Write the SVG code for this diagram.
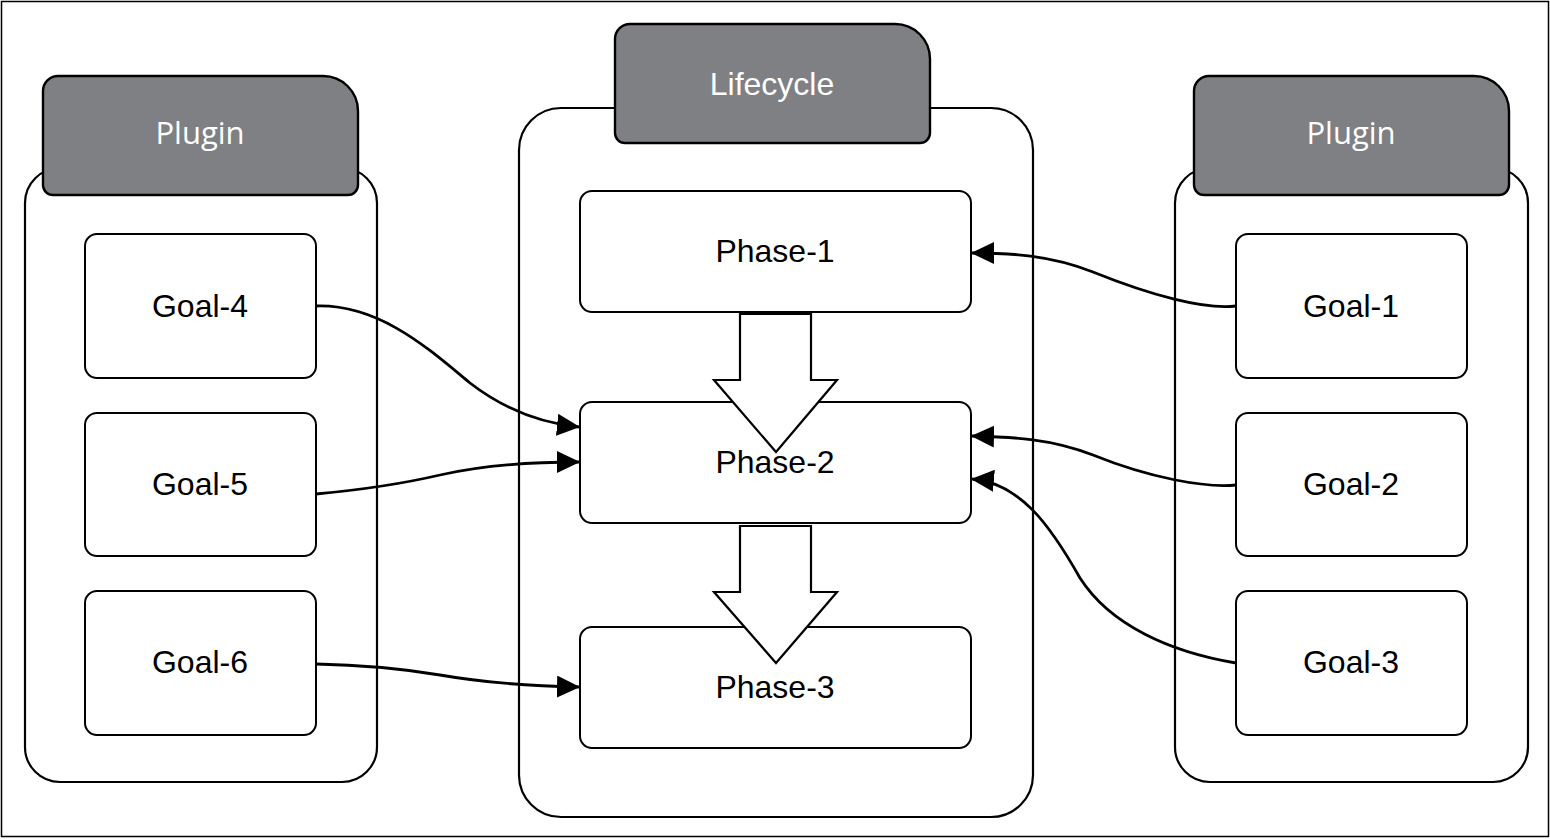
<svg xmlns="http://www.w3.org/2000/svg" width="1550" height="839" viewBox="0 0 1550 839">
<style>
.frame{fill:#fff;stroke:#000;stroke-width:1.5}
.cont{fill:#fff;stroke:#000;stroke-width:2.2}
.tab{fill:#7f8083;stroke:#000;stroke-width:2.4}
.box{fill:#fff;stroke:#000;stroke-width:2}
.lbl{font-family:"Liberation Sans",Arial,sans-serif;font-size:32px;fill:#000;text-anchor:middle}
.tl{font-family:"Open Sans","Noto Sans",sans-serif;font-size:31px;fill:#fff;text-anchor:middle}
.tl2{font-family:"Liberation Sans",Arial,sans-serif;font-size:32px;fill:#fff;text-anchor:middle}
.con{fill:none;stroke:#000;stroke-width:2.8;marker-end:url(#ah)}
.flow{fill:#fff;stroke:#000;stroke-width:2.2;stroke-linejoin:miter}
</style>
<defs>
<marker id="ah" viewBox="0 0 23 22" markerWidth="23" markerHeight="22" refX="22" refY="11" orient="auto" markerUnits="userSpaceOnUse">
<path d="M0,0 L23,11 L0,22 Z" fill="#000"/>
</marker>
</defs>
<rect class="frame" x="1.5" y="1.5" width="1547" height="835"/>

<g id="plugin-left">
<rect class="cont" x="25" y="168" width="352" height="614" rx="35"/>
<path class="tab" d="M58,76 H323 A35,35 0 0 1 358,111 V185 A10,10 0 0 1 348,195 H53 A10,10 0 0 1 43,185 V91 A15,15 0 0 1 58,76 Z"/>
<text class="tl" x="200" y="144">Plugin</text>
</g>
<g id="lifecycle">
<rect class="cont" x="519" y="108" width="514" height="709" rx="42"/>
<path class="tab" d="M630,24 H895 A35,35 0 0 1 930,59 V133 A10,10 0 0 1 920,143 H625 A10,10 0 0 1 615,133 V39 A15,15 0 0 1 630,24 Z"/>
<text class="tl2" x="772" y="95">Lifecycle</text>
</g>
<g id="plugin-right">
<rect class="cont" x="1175" y="168" width="353" height="614" rx="35"/>
<path class="tab" d="M1209,76 H1474 A35,35 0 0 1 1509,111 V185 A10,10 0 0 1 1499,195 H1204 A10,10 0 0 1 1194,185 V91 A15,15 0 0 1 1209,76 Z"/>
<text class="tl" x="1351" y="144">Plugin</text>
</g>

<g id="goal-4"><rect class="box" x="85" y="234" width="231" height="144" rx="12"/><text class="lbl" x="200" y="317">Goal-4</text></g>
<g id="goal-5"><rect class="box" x="85" y="413" width="231" height="143" rx="12"/><text class="lbl" x="200" y="495">Goal-5</text></g>
<g id="goal-6"><rect class="box" x="85" y="591" width="231" height="144" rx="12"/><text class="lbl" x="200" y="673">Goal-6</text></g>

<g id="phase-1"><rect class="box" x="580" y="191" width="391" height="121" rx="12"/><text class="lbl" x="775" y="262">Phase-1</text></g>
<g id="phase-2"><rect class="box" x="580" y="402" width="391" height="121" rx="12"/><text class="lbl" x="775" y="473">Phase-2</text></g>
<g id="phase-3"><rect class="box" x="580" y="627" width="391" height="121" rx="12"/><text class="lbl" x="775" y="698">Phase-3</text></g>

<g id="goal-1"><rect class="box" x="1236" y="234" width="231" height="144" rx="12"/><text class="lbl" x="1351" y="317">Goal-1</text></g>
<g id="goal-2"><rect class="box" x="1236" y="413" width="231" height="143" rx="12"/><text class="lbl" x="1351" y="495">Goal-2</text></g>
<g id="goal-3"><rect class="box" x="1236" y="591" width="231" height="144" rx="12"/><text class="lbl" x="1351" y="673">Goal-3</text></g>

<g id="connectors">
<polygon class="flow" points="740,314 811,314 811,380 837,380 776,452 714,380 740,380"/>
<polygon class="flow" points="740,526 811,526 811,592 837,592 776,663 714,592 740,592"/>
<path class="con" d="M316,306 C380,304 430,350 470,383 C505,410 540,423 579,427"/>
<path class="con" d="M316,494 C370,489 410,482 440,475 C480,466 520,462 579,462"/>
<path class="con" d="M316,664 C370,665 410,670 440,675 C480,682 530,686 579,687"/>
<path class="con" d="M1236,306 C1205,310 1150,295 1093,272 C1050,255 1010,253 972,253"/>
<path class="con" d="M1236,485 C1205,488 1150,478 1093,455 C1050,438 1010,437 972,436"/>
<path class="con" d="M1236,663 C1170,652 1110,625 1080,578 C1050,525 1020,483 972,479"/>
</g>
</svg>
